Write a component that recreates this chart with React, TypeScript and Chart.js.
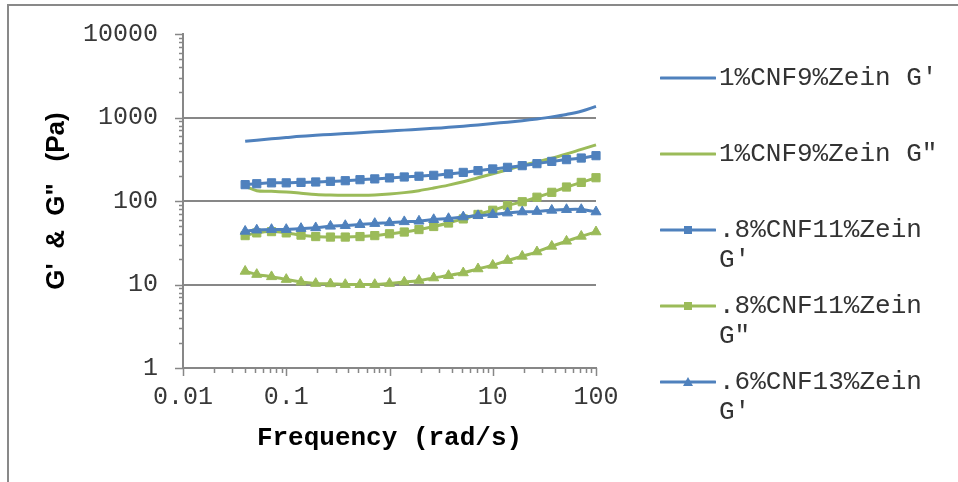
import React, { useEffect, useRef } from 'react';
import { Chart, registerables } from 'chart.js';

Chart.register(...registerables);

// ---- data ----
const frequencies = [0.04, 0.0518, 0.072, 0.1, 0.139, 0.193, 0.268, 0.373, 0.518, 0.72, 1, 1.39, 1.93, 2.68, 3.73, 5.18, 7.2, 10, 13.9, 19.3, 26.8, 37.3, 51.8, 72, 100];

const seriesNames = ["1%CNF9%Zein G'", '1%CNF9%Zein G"', ".8%CNF11%Zein G'", '.8%CNF11%Zein G"', ".6%CNF13%Zein G'", '.6%CNF13%Zein G"'];

const cnf1GPrime = [518, 535, 556, 576, 596, 612, 627, 642, 657, 673, 689, 706, 723, 741, 762, 787, 815, 846, 880, 917, 962, 1017, 1088, 1190, 1360];
const cnf1GDouble = [150, 133, 131, 128, 124, 120, 118, 117, 117, 118, 121, 126, 133, 143, 155, 170, 190, 212, 237, 265, 295, 325, 365, 415, 470];
const cnf08GPrime = [157, 161, 165, 165, 167, 169, 172, 175, 180, 184, 189, 194, 198, 203, 211, 220, 231, 242, 253, 265, 280, 298, 313, 327, 349];
const cnf08GDouble = [38.5, 41.5, 43, 41.5, 39, 37.5, 37, 37, 37.5, 38.5, 40.5, 42.5, 45.5, 49.5, 54.5, 61, 69, 77.5, 88, 98, 111, 127, 147, 167, 190];
const cnf06GPrime = [43.4, 44.9, 45.6, 45.6, 46.9, 47.8, 49.9, 50.8, 52.2, 53.8, 55, 56.5, 57.4, 59.9, 61.6, 64.5, 66.8, 68.8, 71.9, 74.1, 75, 77.5, 79, 79, 74.1];
const cnf06GDouble = [14.4, 13.2, 12.4, 11.5, 10.7, 10.3, 10.2, 10, 10, 10, 10.3, 10.7, 11.2, 12, 12.8, 13.8, 15.4, 17, 19.4, 21.8, 24.6, 28.7, 33, 37.8, 42.7];

const seriesValues = [cnf1GPrime, cnf1GDouble, cnf08GPrime, cnf08GDouble, cnf06GPrime, cnf06GDouble];

const xTickLabels = ['0.01', '0.1', '1', '10', '100'];
const yTickLabels = ['1', '10', '100', '1000', '10000'];

const xTitle = 'Frequency (rad/s)';
const yTitle = 'G\'  &  G"   (Pa)';

// ---- styles ----
const BLUE = '#4F81BD';
const GREEN = '#9BBB59';
const AXIS = '#878787';
const seriesColors = [BLUE, GREEN, BLUE, GREEN, BLUE, GREEN];
const seriesMarkers: (string | null)[] = [null, null, 'rect', 'rect', 'triangle', 'triangle'];
const MONO = "'Liberation Mono', 'Courier New', monospace";
const SANS = "'Liberation Sans', Arial, sans-serif";

const xMin = Number(xTickLabels[0]);
const xMax = Number(xTickLabels[xTickLabels.length - 1]);
const yMin = Number(yTickLabels[0]);
const yMax = Number(yTickLabels[yTickLabels.length - 1]);

function decadeIndex(v: number, min: number): number {
  const e = Math.log10(v / min);
  const r = Math.round(e);
  return Math.abs(e - r) < 1e-6 ? r : -1;
}

const tickMarksPlugin = {
  id: 'tickMarks',
  afterDraw(chart: any) {
    const ctx = chart.ctx;
    const xs = chart.scales.x;
    const ys = chart.scales.y;
    ctx.save();
    ctx.strokeStyle = AXIS;
    ctx.lineWidth = 1.5;
    ctx.beginPath();
    for (let d = yMin; d <= yMax; d *= 10) {
      for (let m = 1; m <= 9; m++) {
        const v = d * m;
        if (v > yMax * 1.0001) break;
        const py = Math.round(ys.getPixelForValue(v)) + 0.5;
        const len = m === 1 ? 8 : 4;
        ctx.moveTo(ys.right - len, py);
        ctx.lineTo(ys.right, py);
      }
    }
    for (let d = xMin; d <= xMax * 1.0001; d *= 10) {
      for (let m = 1; m <= 9; m++) {
        const v = d * m;
        if (v > xMax * 1.0001) break;
        const px = Math.round(xs.getPixelForValue(v)) + 0.5;
        const len = m === 1 ? 8 : 5;
        ctx.moveTo(px, xs.top);
        ctx.lineTo(px, xs.top + len);
      }
    }
    ctx.stroke();
    ctx.restore();
  },
};

function LegendSample({ color, marker }: { color: string; marker: string | null }) {
  return (
    <svg width={56} height={14} style={{ display: 'block' }}>
      <line x1={1} y1={7} x2={55} y2={7} stroke={color} strokeWidth={3} strokeLinecap="round" />
      {marker === 'rect' && <rect x={24} y={3} width={8} height={8} fill={color} />}
      {marker === 'triangle' && <polygon points="28,2 33,11 23,11" fill={color} />}
    </svg>
  );
}

export default function App() {
  const canvasRef = useRef<HTMLCanvasElement | null>(null);

  useEffect(() => {
    if (!canvasRef.current) return;
    const datasets = seriesValues.map((vals, i) => ({
      label: seriesNames[i],
      data: vals.map((v, j) => ({ x: frequencies[j], y: v })),
      borderColor: seriesColors[i],
      backgroundColor: seriesColors[i],
      borderWidth: 3,
      pointStyle: seriesMarkers[i] || 'circle',
      pointRadius: seriesMarkers[i] ? 5.8 : 0,
      pointBorderWidth: 1,
      pointBorderColor: seriesColors[i],
      pointBackgroundColor: seriesColors[i],
      tension: 0.35,
      clip: false as any,
      order: -i,
    }));

    const chart = new Chart(canvasRef.current, {
      type: 'line',
      data: { datasets },
      plugins: [tickMarksPlugin],
      options: {
        animation: false,
        responsive: false,
        devicePixelRatio: 1,
        layout: { padding: { left: 0, top: 34, right: 362, bottom: 0 } },
        plugins: { legend: { display: false }, tooltip: { enabled: false } },
        scales: {
          x: {
            type: 'logarithmic',
            min: xMin,
            max: xMax,
            afterFit: (s: any) => { s.height = 114; },
            grid: { drawOnChartArea: false, drawTicks: false },
            border: { display: true, color: AXIS, width: 2 },
            ticks: {
              autoSkip: false,
              maxRotation: 0,
              padding: 14,
              color: '#383838',
              font: { family: MONO, size: 25 },
              callback: (v: any) => {
                const k = decadeIndex(Number(v), xMin);
                return k >= 0 && k < xTickLabels.length ? xTickLabels[k] : '';
              },
            },
            title: {
              display: true,
              text: xTitle,
              color: '#000',
              font: { family: MONO, size: 26, weight: 'bold' },
              padding: { top: 0, bottom: 28 },
            },
          },
          y: {
            type: 'logarithmic',
            min: yMin,
            max: yMax,
            afterFit: (s: any) => { s.width = 183; s.paddingTop = 0; s.paddingBottom = 0; },
            grid: {
              drawTicks: false,
              lineWidth: 2,
              color: (c: any) => {
                const v = c.tick ? c.tick.value : 0;
                const k = decadeIndex(v, yMin);
                return k > 0 && k < yTickLabels.length - 1 ? AXIS : 'rgba(0,0,0,0)';
              },
            },
            border: { display: true, color: AXIS, width: 2 },
            ticks: {
              autoSkip: false,
              padding: 25,
              color: '#383838',
              font: { family: MONO, size: 25 },
              callback: (v: any) => {
                const k = decadeIndex(Number(v), yMin);
                return k >= 0 && k < yTickLabels.length ? yTickLabels[k] : '';
              },
            },
            title: {
              display: true,
              text: yTitle,
              color: '#000',
              font: { family: SANS, size: 26, weight: 'bold' },
              padding: { top: 41, bottom: 0 },
            },
          },
        },
      } as any,
    });
    return () => chart.destroy();
  }, []);

  return (
    <div style={{ position: 'fixed', left: 0, top: 0, width: 958, height: 482, overflow: 'hidden', background: '#fff' }}>
      <div style={{ position: 'absolute', left: 7, top: 4, width: 1200, height: 800, borderLeft: '2px solid #898989', borderTop: '2px solid #898989' }} />
      <canvas ref={canvasRef} width={958} height={482} style={{ position: 'absolute', left: 0, top: 0, width: 958, height: 482 }} />
      <div style={{ position: 'absolute', left: 650, top: 50, width: 308, height: 380, overflow: 'hidden' }}>
        {seriesNames.map((name, i) => (
          <div key={i} style={{ position: 'absolute', left: 10, top: 13 + 76 * i, display: 'flex', alignItems: 'flex-start' }}>
            <div style={{ marginTop: 8 }}>
              <LegendSample color={seriesColors[i]} marker={seriesMarkers[i]} />
            </div>
            <div style={{ marginLeft: 3, width: 230, fontFamily: MONO, fontSize: 26, lineHeight: '30px', color: '#333' }}>{name}</div>
          </div>
        ))}
      </div>
    </div>
  );
}
